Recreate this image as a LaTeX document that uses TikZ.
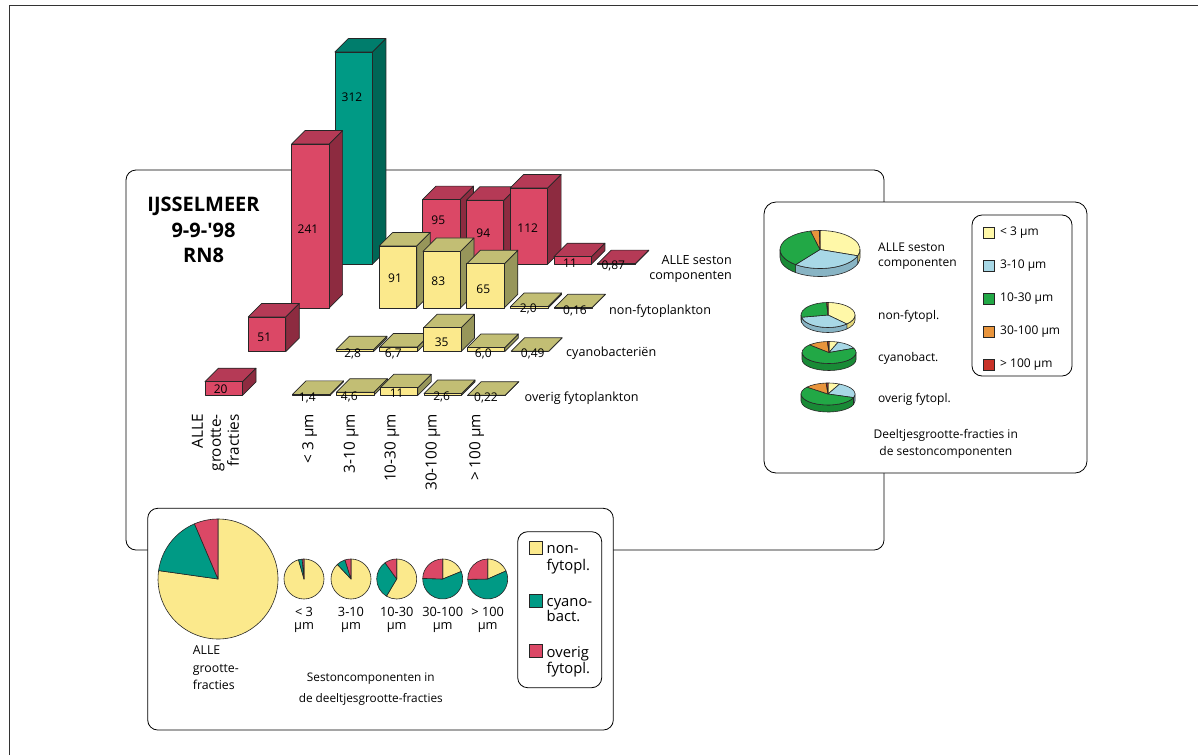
\documentclass[tikz,border=0pt]{standalone}
\usepackage{fontspec}
\setmainfont{Open Sans}
\definecolor{crF}{HTML}{DB4866}
\definecolor{crT}{HTML}{B53A56}
\definecolor{crS}{HTML}{8D2B40}
\definecolor{teF}{HTML}{009A85}
\definecolor{teT}{HTML}{007D6C}
\definecolor{teS}{HTML}{006656}
\definecolor{yeF}{HTML}{FBE98C}
\definecolor{yeT}{HTML}{C2BE74}
\definecolor{yeS}{HTML}{97965A}
\definecolor{pY}{HTML}{FFF8A8}\definecolor{pYs}{HTML}{E6D97A}
\definecolor{pB}{HTML}{A8D8E6}\definecolor{pBs}{HTML}{88B4C4}
\definecolor{pG}{HTML}{22A846}\definecolor{pGs}{HTML}{198A36}
\definecolor{pO}{HTML}{E8943C}\definecolor{pOs}{HTML}{C07628}
\definecolor{pR}{HTML}{C83228}\definecolor{pRs}{HTML}{9E2520}
\newcommand{\tbar}[6]{%
 \filldraw[bar,fill=#6] (#1+37.5,#2-#3) -- ++(13.5,-13.5) -- ++(0,#3) -- ++(-13.5,13.5) -- cycle;
 \filldraw[bar,fill=#5] (#1,#2-#3) -- ++(13.5,-13.5) -- ++(37.5,0) -- ++(-13.5,13.5) -- cycle;
 \filldraw[bar,fill=#4] (#1,#2-#3) rectangle (#1+37.5,#2);}
\newcommand{\gbar}[4]{%
 \pgfmathsetmacro\bx{205+43.8*#2+43.3*#1}%
 \pgfmathsetmacro\by{395.3-43.7*#1}%
 \pgfmathsetmacro\bh{0.68*#3}%
 \tbar{\bx}{\by}{\bh}{#4F}{#4T}{#4S}}
\newcommand{\tdside}[6]{%
 \filldraw[pl,fill=#6] (#4:#1 and #2) arc[start angle=#4,end angle=#5,x radius=#1,y radius=#2] -- ++(0,-#3) arc[start angle=#5,end angle=#4,x radius=#1,y radius=#2] -- cycle;}
\newcommand{\tdtop}[5]{%
 \filldraw[pl,fill=#5] (0,0) -- (#3:#1 and #2) arc[start angle=#3,end angle=#4,x radius=#1,y radius=#2] -- cycle;}
\newcommand{\pslice}[4]{%
 \filldraw[pl,fill=#4] (0,0) -- (#2:#1) arc[start angle=#2,end angle=#3,radius=#1] -- cycle;}
\begin{document}
\begin{tikzpicture}[x=1pt,y=-1pt,
  bar/.style={draw=black!85,line width=0.7pt,line join=round},
  pl/.style={draw=black!85,line width=0.6pt,line join=round},
  box/.style={draw=black,line width=0.8pt,rounded corners=10,fill=white},
  val/.style={font=\fontsize{12}{14}\selectfont,inner sep=0pt},
  lab/.style={font=\fontsize{12}{15}\selectfont,inner sep=0pt},
  rlab/.style={font=\fontsize{12.6}{15}\selectfont,inner sep=0pt},
  clab/.style={font=\fontsize{15.3}{18}\selectfont,inner sep=0pt,rotate=90,anchor=east,align=right},
  sq/.style={draw=black!85,line width=0.6pt}]
\useasboundingbox (0,0) rectangle (1198,755);
\fill[white] (0,0) rectangle (1198,755);
\draw[line width=1.6pt,black!80] (9.3,755) -- (9.3,5.5) -- (1198,5.5);
% main box
\draw[box] (126,170) rectangle (884,550);
% bars, back row first
\gbar{3}{0}{312}{te}\gbar{3}{2}{95}{cr}\gbar{3}{3}{94}{cr}\gbar{3}{4}{112}{cr}\gbar{3}{5}{11}{cr}\gbar{3}{6}{0.87}{cr}
\gbar{2}{0}{241}{cr}\gbar{2}{2}{91}{ye}\gbar{2}{3}{83}{ye}\gbar{2}{4}{65}{ye}\gbar{2}{5}{2.0}{ye}\gbar{2}{6}{0.16}{ye}
\gbar{1}{0}{51}{cr}\gbar{1}{2}{2.8}{ye}\gbar{1}{3}{6.7}{ye}\gbar{1}{4}{35}{ye}\gbar{1}{5}{6.0}{ye}\gbar{1}{6}{0.49}{ye}
\gbar{0}{0}{20}{cr}\gbar{0}{2}{1.4}{ye}\gbar{0}{3}{4.6}{ye}\gbar{0}{4}{11}{ye}\gbar{0}{5}{2.6}{ye}\gbar{0}{6}{0.22}{ye}
% bar values
\node[val] (v312) at (352,97) {312};
\node[val] (v241) at (308,229) {241};
\node[val] (v51) at (264.3,337.3) {51};
\node[val] (v20) at (220.7,389) {20};
\node[val] (v95) at (438.3,220.7) {95};
\node[val] (v94) at (483.3,233.3) {94};
\node[val] (v112) at (527.7,228.3) {112};
\node[val] (v11a) at (570,263.3) {11};
\node[val] (v087) at (613.3,266) {0,87};
\node[val] (v91) at (395,278.3) {91};
\node[val] (v83) at (438.3,281.7) {83};
\node[val] (v65) at (483.3,289.3) {65};
\node[val] (v20b) at (528.3,309.3) {2,0};
\node[val] (v016) at (575,310.7) {0,16};
\node[val] (v28) at (352.7,354) {2,8};
\node[val] (v67) at (393.3,354) {6,7};
\node[val] (v35) at (441.7,342.3) {35};
\node[val] (v60) at (483.3,354) {6,0};
\node[val] (v049) at (532.7,354) {0,49};
\node[val] (v14) at (307.3,398.3) {1,4};
\node[val] (v46) at (349.3,396.7) {4,6};
\node[val] (v11b) at (396.7,393.3) {11};
\node[val] (v26) at (441.7,397.3) {2,6};
\node[val] (v022) at (486,398.3) {0,22};
% row labels
\node[rlab,anchor=east,align=right] (rall) at (732,269) {ALLE seston\\componenten};
\node[rlab,anchor=west] (rnon) at (609,310.7) {non-fytoplankton};
\node[rlab,anchor=west] (rcya) at (566,353) {cyanobacteriën};
\node[rlab,anchor=west] (rove) at (524.5,398.3) {overig fytoplankton};
% column labels
\node[clab] (call) at (215.5,414) {ALLE\\grootte-\\fracties};
\node[clab] (c1) at (309.7,414) {< 3 µm};
\node[clab] (c2) at (351.2,414) {3-10 µm};
\node[clab] (c3) at (391.8,414) {10-30 µm};
\node[clab] (c4) at (433,414) {30-100 µm};
\node[clab] (c5) at (476.7,414) {> 100 µm};
% title
\node[font=\bfseries\fontsize{20}{25.5}\selectfont,align=center,inner sep=0pt] (title) at (203.5,230) {IJSSELMEER\\9-9-\textquotesingle98\\RN8};
% right box
\draw[box,rounded corners=12] (764,202) rectangle (1087,473);
\draw[box] (972,215) rectangle (1072,376);
\foreach \yy/\cc/\tt [count=\i] in {232.5/pY/{< 3 µm},266/pB/{3-10 µm},299/pG/{10-30 µm},332/pO/{30-100 µm},365/pR/{> 100 µm}}{
  \filldraw[sq,fill=\cc] (983.3,\yy-5.5) rectangle ++(11,11);
  \node[lab,anchor=west] (lg\i) at (1000,\yy) {\tt};
}
% 3D pies
\begin{scope}[shift={(820,249.5)},yscale=-1]
 \tdside{40}{19}{8}{-19.31}{0}{pYs}
 \tdside{40}{19}{8}{-127.47}{-19.31}{pBs}
 \tdside{40}{19}{8}{-180}{-127.47}{pGs}
 \tdtop{40}{19}{90}{-19.31}{pY}
 \tdtop{40}{19}{-19.31}{-127.47}{pB}
 \tdtop{40}{19}{-127.47}{-256.34}{pG}
 \tdtop{40}{19}{-256.34}{-269}{pO}
 \tdtop{40}{19}{-269}{-270}{pR}
\end{scope}
\begin{scope}[shift={(828,315)},yscale=-1]
 \tdside{27}{12.5}{5}{-45.85}{0}{pYs}
 \tdside{27}{12.5}{5}{-169.75}{-45.85}{pBs}
 \tdside{27}{12.5}{5}{-180}{-169.75}{pGs}
 \tdtop{27}{12.5}{90}{-45.85}{pY}
 \tdtop{27}{12.5}{-45.85}{-169.75}{pB}
 \tdtop{27}{12.5}{-169.75}{-266.78}{pG}
 \tdtop{27}{12.5}{-266.78}{-269.77}{pO}
 \tdtop{27}{12.5}{-269.77}{-270}{pR}
\end{scope}
\begin{scope}[shift={(829,352.5)},yscale=-1]
 \tdside{27}{11}{7}{-180}{0}{pGs}
 \tdtop{27}{11}{90}{70.23}{pY}
 \tdtop{27}{11}{70.23}{22.93}{pB}
 \tdtop{27}{11}{22.93}{-224.18}{pG}
 \tdtop{27}{11}{-224.18}{-266.54}{pO}
 \tdtop{27}{11}{-266.54}{-270}{pR}
\end{scope}
\begin{scope}[shift={(828,394)},yscale=-1]
 \tdside{27}{11}{7}{-18.98}{0}{pBs}
 \tdside{27}{11}{7}{-180}{-18.98}{pGs}
 \tdtop{27}{11}{90}{64.57}{pY}
 \tdtop{27}{11}{64.57}{-18.98}{pB}
 \tdtop{27}{11}{-18.98}{-218.78}{pG}
 \tdtop{27}{11}{-218.78}{-266}{pO}
 \tdtop{27}{11}{-266}{-270}{pR}
\end{scope}
\node[lab,anchor=west,align=left] (pall) at (878,256) {ALLE seston\\componenten};
\node[lab,anchor=west] (pnon) at (878,316.7) {non-fytopl.};
\node[lab,anchor=west] (pcya) at (878,358.3) {cyanobact.};
\node[lab,anchor=west] (pove) at (878,399) {overig fytopl.};
\node[lab,align=center,font=\fontsize{12}{16.7}\selectfont] (pcap) at (945.8,443.5) {Deeltjesgrootte-fracties in\\de sestoncomponenten};
% bottom box
\draw[box] (147.7,508.3) rectangle (613.3,730);
\draw[box] (517.7,531.7) rectangle (601.7,687.7);
\begin{scope}[shift={(218,579)},yscale=-1]
 \pslice{60}{90}{-188.08}{yeF}\pslice{60}{-188.08}{-246.92}{teF}\pslice{60}{-246.92}{-270}{crF}
\end{scope}
\begin{scope}[shift={(304,579)},yscale=-1]
 \pslice{20}{90}{-254.12}{yeF}\pslice{20}{-254.12}{-264.71}{teF}\pslice{20}{-264.71}{-270}{crF}
\end{scope}
\begin{scope}[shift={(351,579)},yscale=-1]
 \pslice{20}{90}{-226.86}{yeF}\pslice{20}{-226.86}{-252.44}{teF}\pslice{20}{-252.44}{-270}{crF}
\end{scope}
\begin{scope}[shift={(396.7,579)},yscale=-1]
 \pslice{20}{90}{-120.81}{yeF}\pslice{20}{-120.81}{-234.32}{teF}\pslice{20}{-234.32}{-270}{crF}
\end{scope}
\begin{scope}[shift={(442.7,579)},yscale=-1]
 \pslice{20}{90}{22.08}{yeF}\pslice{20}{22.08}{-181.69}{teF}\pslice{20}{-181.69}{-270}{crF}
\end{scope}
\begin{scope}[shift={(487.7,579)},yscale=-1]
 \pslice{20}{90}{23.79}{yeF}\pslice{20}{23.79}{-178.97}{teF}\pslice{20}{-178.97}{-270}{crF}
\end{scope}
\foreach \xx/\tt [count=\i] in {304/{< 3},351/{3-10},396.7/{10-30},442.7/{30-100},487.7/{> 100}}{
  \node[align=center,font=\fontsize{12.8}{12.8}\selectfont,inner sep=0pt] (pl\i) at (\xx,619.5) {\tt\\µm};
}
\node[align=left,anchor=west,font=\fontsize{12.3}{17.5}\selectfont,inner sep=0pt] (pbig) at (192.7,668) {ALLE\\grootte-\\fracties};
\node[align=center,font=\fontsize{11.8}{21}\selectfont,inner sep=0pt] (bcap) at (370.8,689) {Sestoncomponenten in\\de deeltjesgrootte-fracties};
\foreach \yy/\cc [count=\i] in {547.7/yeF,600.5/teF,651/crF}{
  \filldraw[sq,fill=\cc] (529,\yy-6.6) rectangle ++(13.3,13.3);
}
\node[align=left,anchor=west,font=\fontsize{14.8}{16.6}\selectfont,inner sep=0pt] (bl1) at (546.5,560) {non-\\fytopl.};
\node[align=left,anchor=west,font=\fontsize{14.8}{15}\selectfont,inner sep=0pt] (bl2) at (546.5,610.2) {cyano-\\bact.};
\node[align=left,anchor=west,font=\fontsize{14.8}{16.6}\selectfont,inner sep=0pt] (bl3) at (546.5,661.7) {overig\\fytopl.};
\end{tikzpicture}
\end{document}
